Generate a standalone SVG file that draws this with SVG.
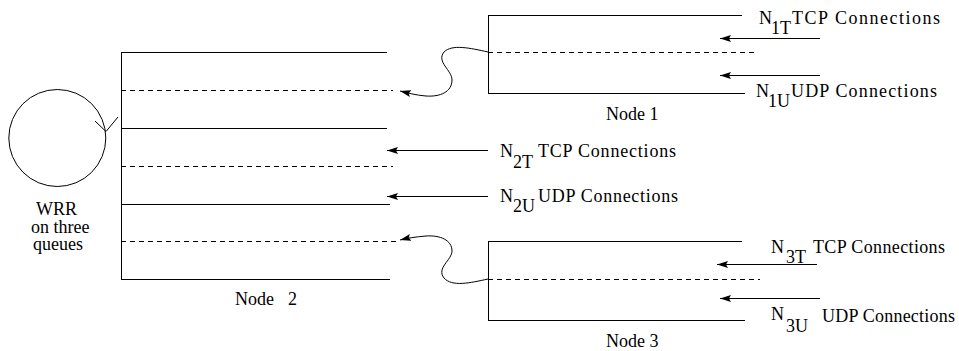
<svg xmlns="http://www.w3.org/2000/svg" width="959" height="351" viewBox="0 0 959 351">
<style>
  .ln { stroke: #000; stroke-width: 1; fill: none; }
  .ds { stroke: #000; stroke-width: 1; fill: none; stroke-dasharray: 5 4; }
  .ar { stroke: #000; stroke-width: 1; fill: none; marker-end: url(#ah); }
</style>
<defs>
  <marker id="ah" markerUnits="userSpaceOnUse" markerWidth="12" markerHeight="8" refX="11" refY="4" orient="auto">
    <path d="M0,0.5 L11,4 L0,7.5 L2,4 Z" fill="#000"/>
  </marker>
</defs>
<rect width="959" height="351" fill="#fff"/>

<g font-family="Liberation Serif, Times New Roman, DejaVu Serif, serif" font-size="18" fill="#000">
<g id="wrr">
  <circle cx="57.3" cy="138" r="48.5" class="ln"/>
  <path d="M95,121 L106,131.5 L118,117" class="ln"/>
  <text x="36" y="215">WRR</text>
  <text x="31" y="233">on three</text>
  <text x="33" y="250">queues</text>
</g>

<g id="node2">
  <line x1="121.5" y1="52" x2="121.5" y2="279.5" class="ln"/>
  <line x1="121" y1="52.5" x2="387" y2="52.5" class="ln"/>
  <line x1="121" y1="90.5" x2="393" y2="90.5" class="ds"/>
  <line x1="121" y1="128.5" x2="387" y2="128.5" class="ln"/>
  <line x1="121" y1="166.5" x2="393" y2="166.5" class="ds"/>
  <line x1="121" y1="204.5" x2="390" y2="204.5" class="ln"/>
  <line x1="121" y1="241.5" x2="398" y2="241.5" class="ds"/>
  <line x1="121" y1="279.5" x2="390" y2="279.5" class="ln"/>
  <text x="235" y="305">Node</text>
  <text x="288" y="305">2</text>
  <text x="500" y="157">N</text>
  <text x="513" y="168">2T</text>
  <text x="538" y="157" textLength="138" lengthAdjust="spacing">TCP Connections</text>
  <text x="500" y="202">N</text>
  <text x="513" y="212">2U</text>
  <text x="538" y="202" textLength="140" lengthAdjust="spacing">UDP Connections</text>
</g>

<g id="node1">
  <line x1="488.5" y1="15" x2="488.5" y2="94" class="ln"/>
  <line x1="488" y1="15.5" x2="742" y2="15.5" class="ln"/>
  <line x1="488" y1="52.5" x2="757" y2="52.5" class="ds"/>
  <line x1="488" y1="93.5" x2="745" y2="93.5" class="ln"/>
  <text x="606" y="120">Node 1</text>
  <text x="759" y="24">N</text>
  <text x="771" y="34">1T</text>
  <text x="792" y="24" textLength="148" lengthAdjust="spacing">TCP Connections</text>
  <text x="756" y="97">N</text>
  <text x="768" y="107">1U</text>
  <text x="791" y="97" textLength="146" lengthAdjust="spacing">UDP Connections</text>
</g>

<g id="node3">
  <line x1="488.5" y1="241.5" x2="488.5" y2="320" class="ln"/>
  <line x1="488" y1="241.5" x2="742" y2="241.5" class="ln"/>
  <line x1="488" y1="279.5" x2="760" y2="279.5" class="ds"/>
  <line x1="488" y1="320.5" x2="745" y2="320.5" class="ln"/>
  <text x="606" y="347">Node 3</text>
  <text x="771" y="253">N</text>
  <text x="786" y="263">3T</text>
  <text x="813" y="253" textLength="132" lengthAdjust="spacing">TCP Connections</text>
  <text x="771" y="320">N</text>
  <text x="786" y="332">3U</text>
  <text x="822" y="322" textLength="133" lengthAdjust="spacing">UDP Connections</text>
</g>
</g>

<g id="connectors">
  <line x1="820" y1="38.5" x2="720" y2="38.5" class="ar"/>
  <line x1="820" y1="75.5" x2="720" y2="75.5" class="ar"/>
  <line x1="488" y1="150.5" x2="387" y2="150.5" class="ar"/>
  <line x1="488" y1="196.5" x2="387" y2="196.5" class="ar"/>
  <line x1="817" y1="264.5" x2="717" y2="264.5" class="ar"/>
  <line x1="820" y1="298.5" x2="720" y2="298.5" class="ar"/>
  <path d="M488,52 C470,48 452,44 444,52 C436,62 452,70 452,80 C452,92 440,97 426,96 C415,95 408,93 400,91" class="ar"/>
  <path d="M488,279 C470,283 452,287 444,278 C436,268 452,260 452,251 C452,240 440,235 426,236 C415,237 408,238 400,240" class="ar"/>
</g>
</svg>
